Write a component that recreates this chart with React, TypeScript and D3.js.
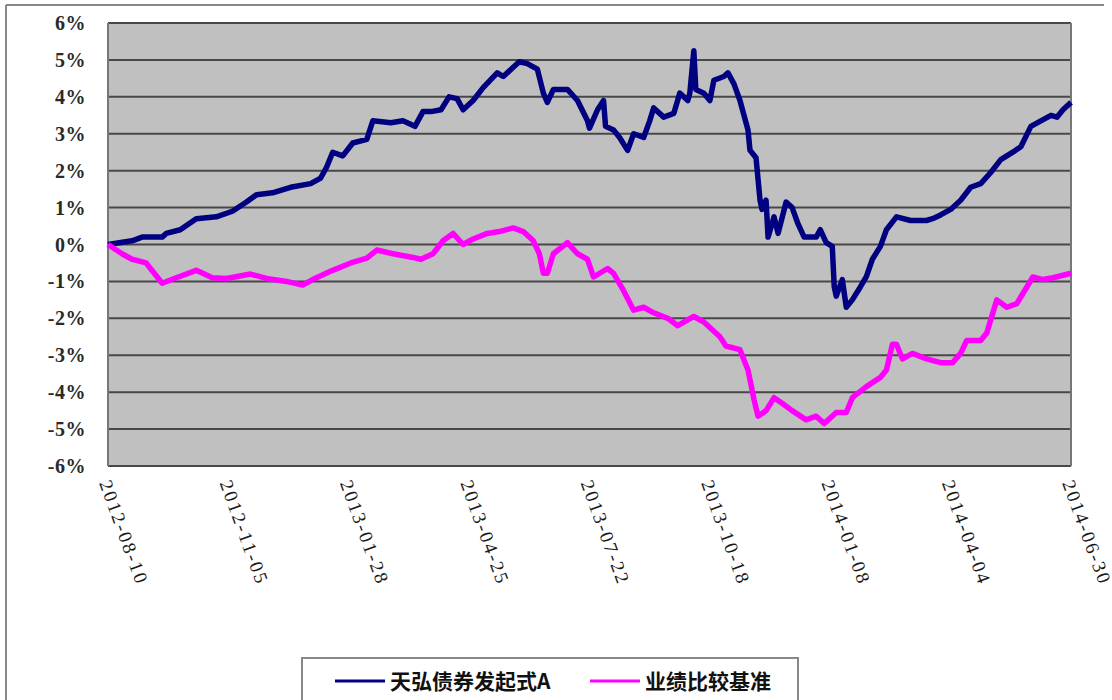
import * as d3 from 'd3';

// trading-day index (0..480) and return in %
const fundA: [number, number][] = [
  [0, 0], [12, 0.1], [17, 0.2], [27, 0.2], [29, 0.3], [36, 0.4], [44, 0.7], [54, 0.75],
  [62, 0.9], [69, 1.15], [74, 1.35], [82, 1.4], [91, 1.55], [101, 1.65], [106, 1.8],
  [109, 2.1], [112, 2.5], [117, 2.4], [122, 2.75], [129, 2.85], [132, 3.35], [141, 3.3],
  [147, 3.35], [153, 3.2], [157, 3.6], [161, 3.6], [166, 3.65], [170, 4.0], [174, 3.95],
  [177, 3.65], [182, 3.9], [187, 4.25], [194, 4.65], [197, 4.55], [202, 4.8], [205, 4.95],
  [209, 4.9], [214, 4.75], [217, 4.1], [219, 3.85], [222, 4.2], [229, 4.2], [234, 3.9],
  [239, 3.35], [240, 3.15], [244, 3.65], [247, 3.9], [248, 3.2], [252, 3.1], [255, 2.9],
  [259, 2.55], [262, 3.0], [267, 2.9], [270, 3.35], [272, 3.7], [277, 3.45], [282, 3.55],
  [285, 4.1], [289, 3.9], [290, 4.1], [292, 5.25], [293, 4.2], [297, 4.1], [300, 3.9],
  [302, 4.45], [307, 4.55], [309, 4.65], [312, 4.35], [315, 3.9], [319, 3.1], [320, 2.55],
  [323, 2.35], [325, 1.2], [326, 0.95], [328, 1.2], [329, 0.2], [332, 0.75], [334, 0.3],
  [338, 1.15], [341, 1.0], [344, 0.55], [347, 0.2], [353, 0.2], [355, 0.4], [358, 0.05],
  [361, -0.05], [362, -1.15], [363, -1.4], [366, -0.95], [368, -1.7], [371, -1.5],
  [375, -1.15], [378, -0.87], [381, -0.4], [385, -0.05], [388, 0.4], [393, 0.75],
  [400, 0.65], [408, 0.65], [411, 0.7], [415, 0.8], [420, 0.95], [425, 1.2], [430, 1.55],
  [435, 1.65], [440, 1.95], [445, 2.3], [451, 2.5], [455, 2.65], [460, 3.2], [465, 3.35],
  [470, 3.5], [473, 3.45], [476, 3.65], [480, 3.85],
];

const benchmark: [number, number][] = [
  [0, 0], [7, -0.25], [12, -0.4], [19, -0.5], [27, -1.05], [34, -0.9], [44, -0.7],
  [52, -0.9], [59, -0.92], [71, -0.8], [79, -0.92], [89, -1.0], [97, -1.1], [102, -0.95],
  [112, -0.7], [121, -0.5], [129, -0.37], [134, -0.15], [142, -0.25], [152, -0.35],
  [156, -0.4], [162, -0.25], [167, 0.1], [172, 0.3], [177, 0.0], [182, 0.15], [189, 0.3],
  [195, 0.35], [202, 0.45], [207, 0.35], [212, 0.1], [215, -0.25], [217, -0.78],
  [219, -0.78], [222, -0.25], [229, 0.05], [234, -0.25], [239, -0.4], [242, -0.88],
  [249, -0.65], [252, -0.78], [257, -1.25], [262, -1.78], [267, -1.7], [272, -1.85],
  [279, -2.0], [284, -2.2], [292, -1.95], [297, -2.1], [302, -2.35], [305, -2.5],
  [308, -2.75], [315, -2.85], [319, -3.4], [322, -4.2], [324, -4.65], [328, -4.5],
  [332, -4.15], [336, -4.3], [341, -4.5], [348, -4.75], [353, -4.65], [357, -4.85],
  [363, -4.55], [368, -4.55], [371, -4.15], [378, -3.85], [385, -3.6], [388, -3.4],
  [391, -2.7], [393, -2.7], [396, -3.1], [401, -2.95], [408, -3.1], [415, -3.2],
  [421, -3.2], [425, -2.95], [428, -2.6], [435, -2.6], [438, -2.4], [443, -1.5],
  [448, -1.7], [453, -1.6], [458, -1.15], [461, -0.88], [466, -0.95], [471, -0.9],
  [480, -0.78],
];

const dateLabels = [
  '2012-08-10', '2012-11-05', '2013-01-28', '2013-04-25', '2013-07-22',
  '2013-10-18', '2014-01-08', '2014-04-04', '2014-06-30',
];
const yTicks = [6, 5, 4, 3, 2, 1, 0, -1, -2, -3, -4, -5, -6];
const seriesNames = ['天弘债券发起式A', '业绩比较基准'];
const seriesColors = ['#000080', '#FF00FF'];

export default function App() {
  const x = d3.scaleLinear().domain([0, 480]).range([108, 1071]);
  const y = d3.scaleLinear().domain([-6, 6]).range([466, 23]);
  const line = d3.line<[number, number]>().x((d) => x(d[0])).y((d) => y(d[1]));
  const tickDays = dateLabels.map((_, i) => (i * 480) / (dateLabels.length - 1));

  return (
    <svg
      width={1112}
      height={700}
      style={{ position: 'absolute', left: 0, top: 0, background: '#fff' }}
    >
      <line x1={6} y1={5} x2={1104} y2={5} stroke="#888" strokeWidth={2} />
      <line x1={6} y1={5} x2={6} y2={700} stroke="#888" strokeWidth={2} />

      <rect x={x(0)} y={y(6)} width={x(480) - x(0)} height={y(-6) - y(6)} fill="#C0C0C0" />
      {yTicks.map((t) => (
        <line key={t} x1={x(0)} x2={x(480)} y1={y(t)} y2={y(t)} stroke="#484848" strokeWidth={2} />
      ))}
      <line x1={x(0)} x2={x(0)} y1={y(6)} y2={y(-6)} stroke="#777" strokeWidth={2} />
      <line x1={x(480)} x2={x(480)} y1={y(6)} y2={y(-6)} stroke="#777" strokeWidth={2} />

      {yTicks.map((t) => (
        <text
          key={t}
          x={86}
          y={y(t)}
          dy="0.35em"
          textAnchor="end"
          fontFamily="'Liberation Serif', serif"
          fontWeight="bold"
          fontSize={20}
          letterSpacing={0.5}
          fill="#2a2a2a"
        >
          {t}%
        </text>
      ))}

      {dateLabels.map((lbl, i) => (
        <text
          key={lbl}
          transform={`translate(${x(tickDays[i]) - 9},483) rotate(70)`}
          fontFamily="'Liberation Serif', serif"
          fontSize={19}
          textLength={108}
          lengthAdjust="spacing"
          fill="#1a1a1a"
        >
          {lbl}
        </text>
      ))}

      <path d={line(fundA) ?? ''} fill="none" stroke={seriesColors[0]} strokeWidth={5.5} strokeLinejoin="round" />
      <path d={line(benchmark) ?? ''} fill="none" stroke={seriesColors[1]} strokeWidth={5.5} strokeLinejoin="round" />

      <rect x={302} y={658} width={496} height={60} fill="#fff" stroke="#888" strokeWidth={2} />
      {seriesNames.map((name, i) => {
        const lx = i === 0 ? 335 : 590;
        return (
          <g key={name}>
            <line x1={lx} x2={lx + 50} y1={681} y2={681} stroke={seriesColors[i]} strokeWidth={3} />
            <text
              x={lx + 55}
              y={681}
              dy="0.36em"
              fontFamily="'Noto Sans CJK SC', sans-serif"
              fontWeight="bold"
              fontSize={21}
              fill="#111"
            >
              {name}
            </text>
          </g>
        );
      })}
    </svg>
  );
}
